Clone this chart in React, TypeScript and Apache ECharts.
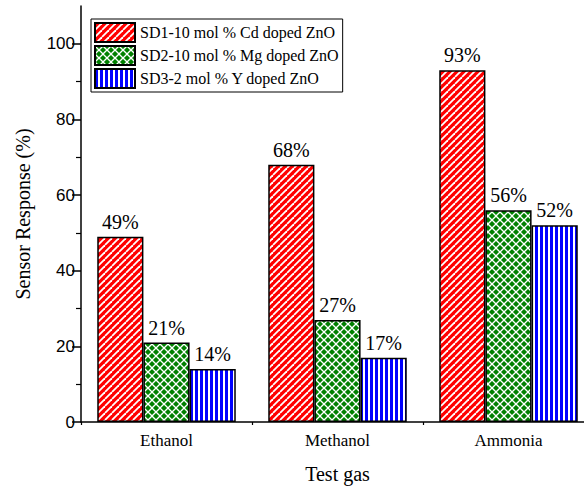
import React, { useEffect, useRef } from 'react';
import * as echarts from 'echarts';

const categories = ['Ethanol', 'Methanol', 'Ammonia'];
const seriesNames = [
  'SD1-10 mol % Cd doped ZnO',
  'SD2-10 mol % Mg doped ZnO',
  'SD3-2 mol % Y doped ZnO',
];
const cdValues = [49, 68, 93];
const mgValues = [21, 27, 56];
const yValues = [14, 17, 52];
const yTickValues = [0, 20, 40, 60, 80, 100];
const yMinorTickValues = [10, 30, 50, 70, 90];

const SERIF = 'Liberation Serif';
const SANS = 'Liberation Sans';

function makePattern(kind: 'stripe' | 'cross' | 'vertical') {
  const c = document.createElement('canvas');
  let s = 7;
  if (kind === 'cross') s = 8;
  if (kind === 'vertical') s = 5;
  c.width = s;
  c.height = s;
  const ctx = c.getContext('2d')!;
  if (kind === 'stripe') {
    ctx.fillStyle = '#ff0000';
    ctx.fillRect(0, 0, s, s);
    ctx.strokeStyle = '#ffffff';
    ctx.lineWidth = 1.8;
    for (const k of [-s, 0, s]) {
      ctx.beginPath();
      ctx.moveTo(k, s);
      ctx.lineTo(k + s, 0);
      ctx.stroke();
    }
  } else if (kind === 'cross') {
    ctx.fillStyle = '#008000';
    ctx.fillRect(0, 0, s, s);
    ctx.strokeStyle = '#ffffff';
    ctx.lineWidth = 1.3;
    for (const k of [-s, 0, s]) {
      ctx.beginPath();
      ctx.moveTo(k, 0);
      ctx.lineTo(k + s, s);
      ctx.stroke();
      ctx.beginPath();
      ctx.moveTo(k, s);
      ctx.lineTo(k + s, 0);
      ctx.stroke();
    }
  } else {
    ctx.fillStyle = '#0000ff';
    ctx.fillRect(0, 0, s, s);
    ctx.fillStyle = '#ffffff';
    ctx.fillRect(3, 0, 2, s);
  }
  return { image: c, repeat: 'repeat' } as any;
}

export default function App() {
  const ref = useRef<HTMLDivElement>(null);
  useEffect(() => {
    if (!ref.current) return;
    const chart = echarts.init(ref.current, null, { renderer: 'svg' });
    const patterns = [makePattern('stripe'), makePattern('cross'), makePattern('vertical')];
    const values = [cdValues, mgValues, yValues];
    chart.setOption({
      animation: false,
      backgroundColor: '#ffffff',
      grid: {
        left: 81,
        top: 6,
        right: -10,
        bottom: 65,
        containLabel: false,
        outerBoundsMode: 'none',
      },
      legend: {
        orient: 'vertical',
        left: 91,
        top: 19,
        icon: 'rect',
        itemWidth: 40,
        itemHeight: 19,
        itemGap: 2,
        padding: [3, 4, 3, 3],
        borderColor: '#000',
        borderWidth: 1,
        backgroundColor: '#fff',
        textStyle: { fontFamily: SERIF, fontSize: 16, color: '#000' },
        data: seriesNames,
      },
      xAxis: [
        {
          type: 'category',
          data: categories,
          position: 'bottom',
          name: 'Test gas',
          nameLocation: 'middle',
          nameGap: 42,
          nameTextStyle: { fontFamily: SERIF, fontSize: 20, color: '#000' },
          axisLine: { lineStyle: { color: '#000', width: 1.5 } },
          axisTick: { alignWithLabel: true, length: 6, lineStyle: { color: '#000', width: 1.5 } },
          axisLabel: { fontFamily: SERIF, fontSize: 17, color: '#000', margin: 10 },
        },
        {
          type: 'category',
          data: categories,
          position: 'bottom',
          axisLine: { show: false },
          axisTick: { show: true, length: 3, lineStyle: { color: '#000', width: 1.2 } },
          axisLabel: { show: false },
        },
      ],
      yAxis: [
        {
          type: 'value',
          min: 0,
          max: 110,
          interval: 10,
          name: 'Sensor Response (%)',
          nameLocation: 'middle',
          nameGap: 48,
          nameTextStyle: { fontFamily: SERIF, fontSize: 20, color: '#000' },
          axisLine: { show: true, lineStyle: { color: '#000', width: 1.5 } },
          axisTick: { show: true, length: 9, customValues: yTickValues, lineStyle: { color: '#000', width: 1.5 } },
          axisLabel: { fontFamily: SANS, fontSize: 17, color: '#000', margin: 6, customValues: yTickValues },
          splitLine: { show: false },
        },
        {
          type: 'value',
          min: 0,
          max: 110,
          interval: 10,
          position: 'left',
          axisLine: { show: false },
          axisTick: { show: true, length: 5, customValues: yMinorTickValues, lineStyle: { color: '#000', width: 1.2 } },
          axisLabel: { show: false },
          splitLine: { show: false },
        },
      ],
      series: seriesNames.map((name, i) => ({
        name,
        type: 'bar',
        xAxisIndex: 0,
        yAxisIndex: 0,
        data: values[i],
        barGap: '0%',
        barCategoryGap: '19%',
        itemStyle: { color: patterns[i], borderColor: '#000', borderWidth: 1.5 },
        label: {
          show: true,
          position: 'top',
          distance: 5,
          formatter: '{c}%',
          fontFamily: SERIF,
          fontSize: 20,
          color: '#000',
        },
      })),
    });
    return () => chart.dispose();
  }, []);
  return <div ref={ref} style={{ width: 584, height: 487, position: 'absolute', left: 0, top: 0 }} />;
}
